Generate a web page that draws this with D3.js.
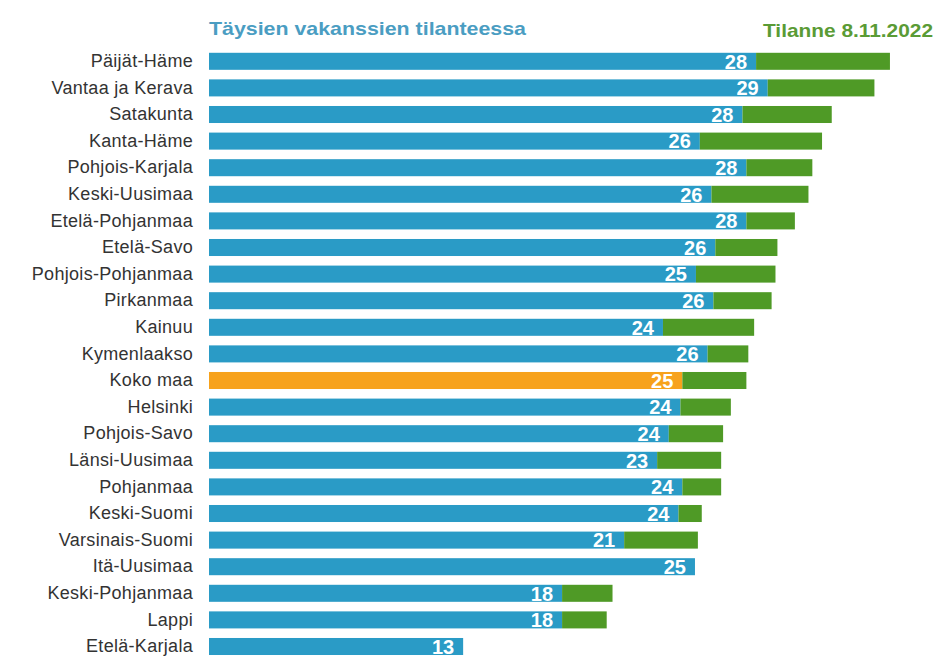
<!DOCTYPE html>
<html>
<head>
<meta charset="utf-8">
<script src="https://cdn.jsdelivr.net/npm/d3@7"></script>
<style>
html, body { margin: 0; padding: 0; background: #ffffff; }
svg { display: block; }
</style>
</head>
<body>
<svg id="chart" width="935" height="669"></svg>
<script>
const categories = ["Päijät-Häme","Vantaa ja Kerava","Satakunta","Kanta-Häme","Pohjois-Karjala","Keski-Uusimaa","Etelä-Pohjanmaa","Etelä-Savo","Pohjois-Pohjanmaa","Pirkanmaa","Kainuu","Kymenlaakso","Koko maa","Helsinki","Pohjois-Savo","Länsi-Uusimaa","Pohjanmaa","Keski-Suomi","Varsinais-Suomi","Itä-Uusimaa","Keski-Pohjanmaa","Lappi","Etelä-Karjala"];
const fullVacancies = [28.2, 28.8, 27.5, 25.3, 27.7, 25.9, 27.7, 26.1, 25.1, 26.0, 23.4, 25.7, 24.4, 24.3, 23.7, 23.1, 24.4, 24.2, 21.4, 25.05, 18.2, 18.2, 13.1];
const additional = [6.9, 5.5, 4.6, 6.3, 3.4, 5.0, 2.5, 3.2, 4.1, 3.0, 4.7, 2.1, 3.3, 2.6, 2.8, 3.3, 2.0, 1.2, 3.8, 0.0, 2.6, 2.3, 0.0];
const valueLabels = ["28","29","28","26","28","26","28","26","25","26","24","26","25","24","24","23","24","24","21","25","18","18","13"];
const highlight = "Koko maa";
const titleLeft = "Täysien vakanssien tilanteessa";
const titleRight = "Tilanne 8.11.2022";

(function () {
const svg = d3.select("#chart");
const mLeft = 209, mTop = 48;
const x = d3.scaleLinear().domain([0, 35]).range([mLeft, mLeft + 35 * 19.4]);
const y = d3.scaleBand().domain(categories).range([mTop, mTop + 26.6 * categories.length]).paddingInner(0.36).paddingOuter(0.18);

const blue = "#2a9bc6", green = "#4f9a26", orange = "#f7a21c";
const sans = "'Liberation Sans', Arial, Helvetica, sans-serif";

const rows = svg.append("g").selectAll("g").data(categories).join("g");

rows.append("rect")
  .attr("x", x(0))
  .attr("y", d => y(d))
  .attr("width", (d, i) => x(fullVacancies[i]) - x(0))
  .attr("height", y.bandwidth())
  .attr("fill", d => d === highlight ? orange : blue);

rows.append("rect")
  .attr("x", (d, i) => x(fullVacancies[i]))
  .attr("y", d => y(d))
  .attr("width", (d, i) => x(fullVacancies[i] + additional[i]) - x(fullVacancies[i]))
  .attr("height", y.bandwidth())
  .attr("fill", green);

rows.append("text")
  .attr("x", (d, i) => x(fullVacancies[i]) - 9)
  .attr("y", d => y(d) + y.bandwidth() / 2)
  .attr("dy", "0.36em")
  .attr("text-anchor", "end")
  .attr("fill", "#ffffff")
  .attr("font-family", sans)
  .attr("font-weight", "bold")
  .attr("font-size", 20)
  .text((d, i) => valueLabels[i]);

const yAxis = svg.append("g")
  .attr("transform", `translate(${mLeft - 4},0)`)
  .call(d3.axisLeft(y).tickSize(0).tickPadding(12));
yAxis.select(".domain").remove();
yAxis.selectAll("text")
  .attr("font-family", sans)
  .attr("font-size", 18)
  .attr("letter-spacing", "0.3px")
  .attr("fill", "#333333");

svg.append("text")
  .attr("x", mLeft)
  .attr("y", 35)
  .attr("font-family", sans)
  .attr("font-weight", "bold")
  .attr("font-size", 19)
  .attr("textLength", 317)
  .attr("lengthAdjust", "spacingAndGlyphs")
  .attr("fill", "#4a9dc2")
  .text(titleLeft);

svg.append("text")
  .attr("x", 763)
  .attr("y", 37)
  .attr("font-family", sans)
  .attr("font-weight", "bold")
  .attr("font-size", 19)
  .attr("textLength", 170)
  .attr("lengthAdjust", "spacingAndGlyphs")
  .attr("fill", "#5a9b35")
  .text(titleRight);
})();
</script>
</body>
</html>
